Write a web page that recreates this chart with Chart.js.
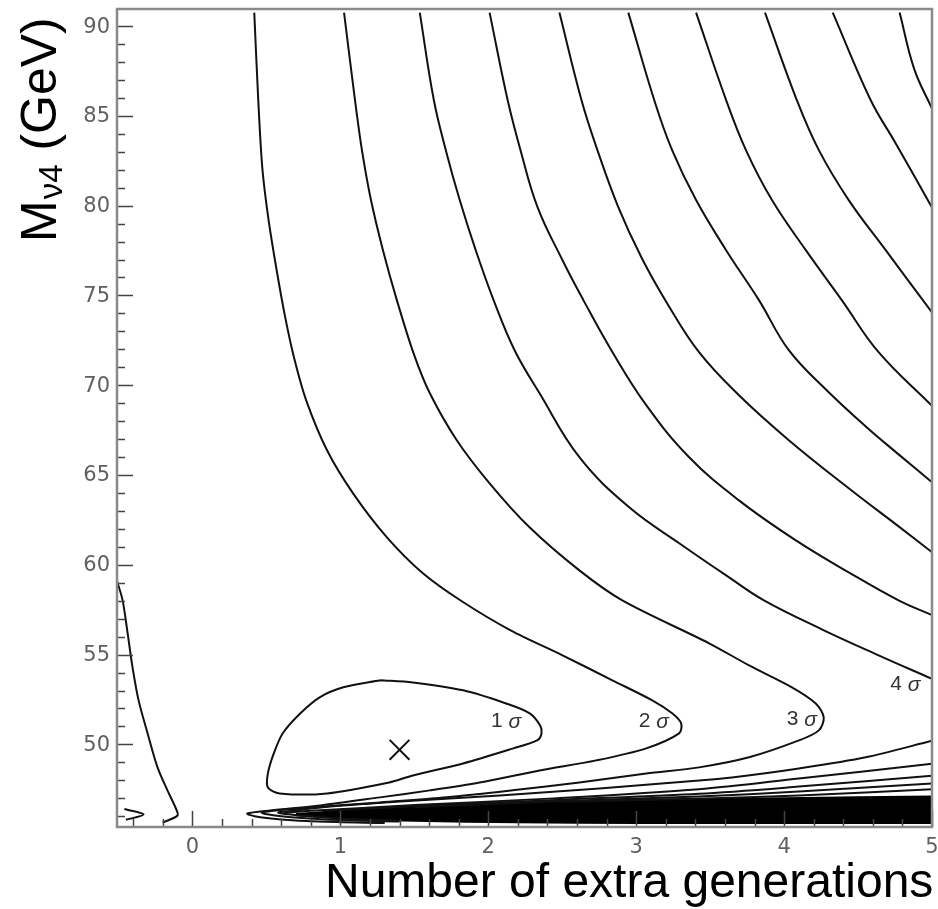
<!DOCTYPE html>
<html>
<head>
<meta charset="utf-8">
<title>M_nu4 vs number of extra generations</title>
<script src="https://cdn.jsdelivr.net/npm/chart.js@4.4.1/dist/chart.umd.min.js"></script>
<style>
  html, body { margin: 0; padding: 0; background: #fff; }
  #wrap { width: 938px; height: 909px; }
</style>
</head>
<body>
<div id="wrap"><canvas id="chart" width="938" height="909"></canvas></div>
<script>
// Axis ranges and tick labels
const xRange = [-0.51, 5];
const yRange = [45.4, 90.95];
const xMajorTicks = [0, 1, 2, 3, 4, 5];
const yMajorTicks = [50, 55, 60, 65, 70, 75, 80, 85, 90];

// Contour lines as [generations, mass in GeV]
const contour1Sigma = [[1.27,53.57],[1.02,53.18],[0.86,52.62],[0.73,51.73],[0.61,50.61],[0.55,49.5],[0.51,48.38],[0.51,47.6],[0.59,47.27],[0.91,47.27],[1.33,47.88],[1.49,48.27],[1.83,48.94],[2.17,49.78],[2.33,50.22],[2.36,50.61],[2.35,51.06],[2.28,51.73],[2.12,52.28],[1.83,53.01],[1.49,53.45],[1.27,53.57]];
const contour2Sigma = [[0.418,90.75],[0.445,85.88],[0.472,82.14],[0.512,79.36],[0.566,76.57],[0.627,73.79],[0.688,71.5],[0.769,69.16],[0.91,66.38],[1.086,63.98],[1.315,61.53],[1.558,59.53],[1.821,57.97],[2.151,56.35],[2.502,54.96],[2.839,53.57],[3.109,52.45],[3.243,51.73],[3.304,51.17],[3.29,50.61],[3.068,49.78],[2.731,49.11],[2.347,48.55],[1.942,47.88],[1.605,47.44],[1.268,47.05],[0.863,46.6],[0.526,46.32],[0.371,46.15],[0.42,46.0],[0.6,45.82],[0.85,45.7],[1.3,45.62]];
const contour3Sigma = [[1.025,90.75],[1.099,85.88],[1.146,83.09],[1.207,80.31],[1.288,77.52],[1.382,74.74],[1.497,71.73],[1.605,69.55],[1.787,66.94],[2.009,64.54],[2.279,62.09],[2.616,59.69],[2.906,58.02],[3.493,55.63],[3.763,54.4],[4.053,53.18],[4.214,52.28],[4.268,51.5],[4.235,50.78],[4.1,50.22],[3.763,49.28],[3.425,48.72],[3.068,48.38],[2.616,47.88],[2.165,47.44],[1.72,47.05],[1.268,46.77],[0.728,46.43],[0.47,46.2],[0.6,46.0],[0.9,45.82],[1.4,45.7]];
const contour4SigmaUpper = [[1.537,90.75],[1.632,85.88],[1.713,83.09],[1.807,80.31],[1.915,77.52],[2.036,74.74],[2.178,71.95],[2.347,69.55],[2.616,65.99],[2.953,63.2],[3.291,61.2],[3.628,59.3],[3.864,58.02],[4.255,56.41],[4.639,54.96],[5.0,53.65]];
const contour4SigmaLower = [[5.0,50.2],[4.552,49.28],[4.1,48.66],[3.648,48.16],[3.425,47.99],[2.751,47.55],[2.077,47.16],[1.403,46.82],[0.931,46.54],[0.7,46.33],[0.58,46.2],[0.75,46.02],[1.0,45.87],[1.4,45.75]];
const contour5Sigma = [[2.009,90.75],[2.131,85.88],[2.218,83.09],[2.333,79.92],[2.502,76.96],[2.643,74.74],[2.832,71.95],[3.068,68.89],[3.358,65.99],[3.695,63.59],[4.08,61.36],[4.437,59.58],[4.774,58.02],[5.0,57.2]];
const contour6Sigma = [[2.481,90.75],[2.63,85.88],[2.738,83.09],[2.879,79.92],[3.035,77.13],[3.209,74.57],[3.425,71.84],[3.695,69.44],[4.032,66.94],[4.437,64.26],[4.774,62.14],[5.0,60.7]];
const contour7Sigma = [[2.947,90.75],[3.122,85.88],[3.243,83.09],[3.405,80.31],[3.608,77.52],[3.83,74.74],[4.032,71.95],[4.288,69.72],[4.558,67.66],[4.774,66.15],[5.0,64.6]];
const contour8Sigma = [[3.405,90.75],[3.608,85.88],[3.742,83.09],[3.918,80.31],[4.147,77.52],[4.39,74.74],[4.639,71.84],[5.0,68.85]];
const contour9Sigma = [[3.871,90.75],[4.086,85.88],[4.235,83.09],[4.437,80.31],[4.687,77.52],[5.0,74.05]];
const contour10Sigma = [[4.329,90.75],[4.585,85.88],[4.754,83.48],[5.0,79.9]];
const contour11Sigma = [[4.781,90.75],[4.88,87.6],[5.0,85.4]];
const lowerLine1 = [[5.0,48.92],[4.1,48.1],[3.425,47.5],[2.41,46.98],[1.5,46.62],[0.8,46.3],[0.62,46.2]];
const lowerLine2 = [[5.0,48.25],[4.1,47.65],[3.425,47.25],[2.5,46.92],[1.5,46.55],[0.9,46.3]];
const lowerLine3 = [[5.0,47.82],[4.1,47.38],[3.425,47.1],[2.5,46.85],[1.5,46.5]];
const lowerLine4 = [[5.0,47.5],[4.1,47.15],[3.4,46.98],[2.5,46.8]];
const leftContour = [[-0.51,59.1],[-0.472,58.02],[-0.438,56.18],[-0.405,54.29],[-0.364,52.45],[-0.303,50.61],[-0.236,48.72],[-0.169,47.44],[-0.115,46.49],[-0.101,46.04],[-0.202,45.65]];
const leftNotch = [[-0.46,46.4],[-0.33,46.1],[-0.45,45.8]];

// Dense band of contours along the bottom
const bandTop = [[0.7,46.12],[1.0,46.3],[1.5,46.55],[2.0,46.72],[3.0,46.9],[4.0,47.0],[5.0,47.1]];
const bandBottom = [[0.7,46.05],[1.0,45.88],[1.5,45.75],[2.2,45.66],[3.0,45.62],[5.0,45.62]];

// Best fit point and contour labels
const bestFitX = [1.4];
const bestFitY = [49.7];
const sigmaLabels = ['1', '2', '3', '4'];
const sigmaLabelX = [2.12, 3.12, 4.12, 4.82];
const sigmaLabelY = [51.3, 51.3, 51.4, 53.35];

const toPts = arr => arr.map(([x, y]) => ({ x, y }));

// closed / folded contours keep a lower tension, the long open ones a higher one
const foldedLines = [
    contour1Sigma, contour2Sigma, contour3Sigma, contour4SigmaLower,
    lowerLine1, lowerLine2, lowerLine3, lowerLine4, leftContour, leftNotch
];
const openLines = [
    contour4SigmaUpper, contour5Sigma, contour6Sigma, contour7Sigma, contour8Sigma,
    contour9Sigma, contour10Sigma, contour11Sigma
];

const lineStyle = tension => line => ({
    data: toPts(line),
    showLine: true,
    borderColor: '#111',
    borderWidth: 2,
    pointRadius: 0,
    tension,
    fill: false
});

const datasets = [
    ...foldedLines.map(lineStyle(0.3)),
    ...openLines.map(lineStyle(0.4))
];

// band: top line filled down to the bottom line
datasets.push({
    data: toPts(bandTop),
    showLine: true,
    borderColor: '#000',
    backgroundColor: '#000',
    borderWidth: 2,
    pointRadius: 0,
    tension: 0.3,
    fill: '+1'
});
datasets.push({
    data: toPts(bandBottom),
    showLine: true,
    borderColor: '#000',
    borderWidth: 2,
    pointRadius: 0,
    tension: 0.3,
    fill: false
});

datasets.push({
    data: bestFitX.map((x, i) => ({ x, y: bestFitY[i] })),
    showLine: false,
    pointStyle: 'crossRot',
    pointRadius: 14,
    borderColor: '#111',
    borderWidth: 2
});

// Frame, inward ticks, tick labels, contour labels and axis titles
const decorations = {
    id: 'decorations',
    afterDatasetsDraw(chart) {
        const { ctx, chartArea: a, scales: { x, y } } = chart;
        ctx.save();

        ctx.strokeStyle = '#444';
        ctx.lineWidth = 1.5;
        ctx.beginPath();
        for (let v = -0.4; v <= 5.001; v += 0.2) {
            const px = Math.round(x.getPixelForValue(v)) + 0.5;
            const major = Math.abs(v - Math.round(v)) < 0.01;
            ctx.moveTo(px, a.bottom);
            ctx.lineTo(px, a.bottom - (major ? 16 : 8));
        }
        for (let v = 46; v <= 90; v += 1) {
            const py = Math.round(y.getPixelForValue(v)) + 0.5;
            const major = v % 5 === 0;
            ctx.moveTo(a.left, py);
            ctx.lineTo(a.left + (major ? 16 : 8), py);
        }
        ctx.stroke();

        ctx.strokeStyle = '#8a8a8a';
        ctx.lineWidth = 2.5;
        ctx.strokeRect(a.left, a.top, a.right - a.left, a.bottom - a.top);

        // tick labels
        ctx.fillStyle = '#606060';
        ctx.font = '21px "DejaVu Sans"';
        ctx.textAlign = 'center';
        ctx.textBaseline = 'top';
        xMajorTicks.forEach(v => ctx.fillText(String(v), x.getPixelForValue(v), a.bottom + 10));
        ctx.textAlign = 'right';
        ctx.textBaseline = 'middle';
        yMajorTicks.forEach(v => ctx.fillText(String(v), a.left - 7, y.getPixelForValue(v) + 1));

        // sigma labels
        ctx.fillStyle = '#333';
        ctx.textAlign = 'left';
        sigmaLabels.forEach((t, i) => {
            const px = x.getPixelForValue(sigmaLabelX[i]);
            const py = y.getPixelForValue(sigmaLabelY[i]);
            ctx.font = '21px "Liberation Sans"';
            const w1 = ctx.measureText(t + ' ').width;
            ctx.font = 'italic 21px "Liberation Sans"';
            const w2 = ctx.measureText('σ').width;
            const x0 = px - (w1 + w2) / 2;
            ctx.font = '21px "Liberation Sans"';
            ctx.fillText(t, x0, py);
            ctx.font = 'italic 21px "Liberation Sans"';
            ctx.fillText('σ', x0 + w1, py + 1);
        });
        ctx.restore();

        // axis titles
        ctx.save();
        ctx.fillStyle = '#000';
        ctx.textBaseline = 'alphabetic';
        ctx.font = '48px "Liberation Sans"';
        ctx.textAlign = 'left';
        ctx.fillText('Number of extra generations', 325, 897);

        ctx.translate(56, 242);
        ctx.rotate(-Math.PI / 2);
        ctx.font = '50px "Liberation Sans"';
        ctx.fillText('M', 0, 0);
        let w = ctx.measureText('M').width + 1;
        ctx.font = '33px "Liberation Sans"';
        ctx.fillText('ν4', w, 6);
        w += ctx.measureText('ν4').width;
        ctx.font = '50px "Liberation Sans"';
        ctx.fillText(' (GeV)', w, 0);
        ctx.restore();
    }
};

new Chart(document.getElementById('chart').getContext('2d'), {
    type: 'scatter',
    data: { datasets },
    options: {
        responsive: false,
        animation: false,
        layout: { autoPadding: false, padding: { top: 9, right: 6, left: 0, bottom: 0 } },
        plugins: { legend: { display: false }, tooltip: { enabled: false } },
        scales: {
            x: {
                type: 'linear',
                min: xRange[0],
                max: xRange[1],
                grid: { display: false, drawTicks: false },
                border: { display: false },
                ticks: { display: false },
                afterFit: axis => { axis.height = 82; }
            },
            y: {
                type: 'linear',
                min: yRange[0],
                max: yRange[1],
                grid: { display: false, drawTicks: false },
                border: { display: false },
                ticks: { display: false },
                afterFit: axis => { axis.width = 117; }
            }
        }
    },
    plugins: [decorations]
});
</script>
</body>
</html>
